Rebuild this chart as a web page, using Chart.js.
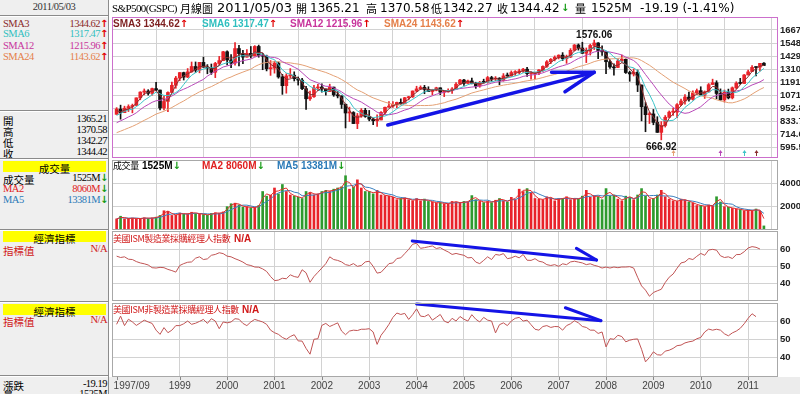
<!DOCTYPE html>
<html>
<head>
<meta charset="utf-8">
<script src="https://cdn.jsdelivr.net/npm/chart.js@4.4.1/dist/chart.umd.min.js"></script>
<style>
body{margin:0;width:800px;height:394px;overflow:hidden;background:#fff;position:relative;font-family:"DejaVu Sans",sans-serif}
canvas{position:absolute;left:0;z-index:1}
.a{position:absolute;white-space:nowrap;z-index:3}
.hd{top:0;height:16px;line-height:16px;font-size:12px;color:#000}
.cj{font-family:"Noto Sans CJK TC",sans-serif}
.ph{top:18px;height:12px;line-height:12px;font:bold 10px "Liberation Sans",sans-serif}
.up{color:#e00000;font:bold 10px "DejaVu Sans"}
.dn{color:#139a13;font:bold 10px "DejaVu Sans"}
.ih{height:12px;line-height:12px;color:#d01818;font-size:9px;letter-spacing:-0.4px}
#left{position:absolute;left:0;top:0;width:108px;height:394px;background:#efefef;border-right:1px solid #8c8c8c;z-index:5;overflow:hidden}
.row{position:absolute;left:3px;width:104px;height:12px;line-height:12px;font:10.5px "Liberation Serif",serif;letter-spacing:-0.5px;color:#000}
.row .v{position:absolute;right:0;top:0}
.row .c{font-family:"Noto Sans CJK TC";font-size:10.5px;letter-spacing:0}
.w{display:inline-block;width:7px;text-align:center;letter-spacing:0}
.sep{position:absolute;left:0;width:108px;height:1px;background:#8a8a8a;border-bottom:1px solid #fff}
.band{position:absolute;left:3px;width:103px;height:11px;line-height:11px;background:#ffff00;text-align:center;font:10.5px "Noto Sans CJK TC";color:#000}
#strip{position:absolute;left:109px;top:377px;width:691px;height:17px;background:#ececec;z-index:0}
</style>
</head>
<body>
<div id="strip"></div>
<canvas id="cPrice" width="800" height="147" style="top:14px"></canvas>
<canvas id="cVol" width="800" height="74" style="top:158px"></canvas>
<canvas id="cMfg" width="800" height="74" style="top:229px"></canvas>
<canvas id="cSrv" width="800" height="93" style="top:301px"></canvas>

<!-- title row -->
<span class="a hd" style="left:112px;font:11px 'Liberation Serif';letter-spacing:-0.6px;line-height:16px">S&amp;P500(GSPC)</span>
<span class="a hd cj" style="left:180px;font-size:11px">月線圖</span>
<span class="a hd" style="left:217px;font-size:13px">2011/05/03</span>
<span class="a hd cj" style="left:296px;font-size:11px">開</span>
<span class="a hd" style="left:310px">1365.21</span>
<span class="a hd cj" style="left:366px;font-size:11px">高</span>
<span class="a hd" style="left:380px">1370.58</span>
<span class="a hd cj" style="left:431px;font-size:11px">低</span>
<span class="a hd" style="left:443px">1342.27</span>
<span class="a hd cj" style="left:497px;font-size:11px">收</span>
<span class="a hd" style="left:510px">1344.42</span>
<span class="a hd dn" style="left:561px;line-height:16px">↓</span>
<span class="a hd cj" style="left:575px;font-size:11px">量</span>
<span class="a hd" style="left:591px">1525M</span>
<span class="a hd" style="left:640px">-19.19 (-1.41%)</span>

<!-- price panel header -->
<span class="a ph" style="left:113px;color:#7d1f1f">SMA3 1344.62<span class="up">↑</span></span>
<span class="a ph" style="left:202px;color:#2fbfbf">SMA6 1317.47<span class="up">↑</span></span>
<span class="a ph" style="left:290px;color:#c8349c">SMA12 1215.96<span class="up">↑</span></span>
<span class="a ph" style="left:384px;color:#e5804a">SMA24 1143.62<span class="up">↑</span></span>

<!-- volume panel header -->
<span class="a ih cj" style="top:160px;left:113px;color:#000">成交量</span>
<span class="a ph" style="top:160px;left:142px;color:#000">1525M<span class="dn">↓</span></span>
<span class="a ph" style="top:160px;left:202px;color:#e02020">MA2 8060M<span class="dn">↓</span></span>
<span class="a ph" style="top:160px;left:277px;color:#2a7ab8">MA5 13381M<span class="dn">↓</span></span>

<!-- indicator headers -->
<span class="a ih cj" style="top:233px;left:113px">美國ISM製造業採購經理人指數</span>
<span class="a ph" style="top:233px;left:234px;color:#d01818">N/A</span>
<span class="a ih cj" style="top:304px;left:113px">美國ISM非製造業採購經理人指數</span>
<span class="a ph" style="top:304px;left:242px;color:#d01818">N/A</span>

<!-- left info panel -->
<div id="left">
  <div class="row" style="top:1px;left:0;width:108px;text-align:center;color:#333">2011/05/03</div>
  <div class="sep" style="top:15px"></div>
  <div class="row" style="top:17.5px;color:#8b2a2a">SMA3<span class="v">1344.62<span class="w up">↑</span></span></div>
  <div class="row" style="top:28px;color:#2fbfbf">SMA6<span class="v">1317.47<span class="w up">↑</span></span></div>
  <div class="row" style="top:39.5px;color:#c8349c">SMA12<span class="v">1215.96<span class="w up">↑</span></span></div>
  <div class="row" style="top:50.5px;color:#e5804a">SMA24<span class="v">1143.62<span class="w up">↑</span></span></div>
  <div class="sep" style="top:110px"></div>
  <div class="row" style="top:113px"><span class="c">開</span><span class="v">1365.21</span></div>
  <div class="row" style="top:124px"><span class="c">高</span><span class="v">1370.58</span></div>
  <div class="row" style="top:135px"><span class="c">低</span><span class="v">1342.27</span></div>
  <div class="row" style="top:146px"><span class="c">收</span><span class="v">1344.42</span></div>
  <div class="sep" style="top:158px"></div>
  <div class="band" style="top:161px">成交量</div>
  <div class="row" style="top:171.5px"><span class="c">成交量</span><span class="v">1525M<span class="w dn">↓</span></span></div>
  <div class="row" style="top:182.5px;color:#e02020">MA2<span class="v">8060M<span class="w dn">↓</span></span></div>
  <div class="row" style="top:193.5px;color:#2a7ab8">MA5<span class="v">13381M<span class="w dn">↓</span></span></div>
  <div class="sep" style="top:229px"></div>
  <div class="band" style="top:231px">經濟指標</div>
  <div class="row" style="top:243px;color:#d01818"><span class="c">指標值</span><span class="v">N/A</span></div>
  <div class="sep" style="top:301px"></div>
  <div class="band" style="top:304px">經濟指標</div>
  <div class="row" style="top:314px;color:#d01818"><span class="c">指標值</span><span class="v">N/A</span></div>
  <div class="sep" style="top:375px"></div>
  <div class="row" style="top:378px"><span class="c">漲跌</span><span class="v">-19.19</span></div>
  <div class="row" style="top:388px"><span class="c">量</span><span class="v">1525M</span></div>
</div>

<script>
// monthly bars 1997/09 .. 2011/05 (index 0 .. 164)
const xTickIdx = [0, 16, 28, 40, 52, 64, 76, 88, 100, 112, 124, 136, 148, 160];
const xTickLabels = ["1997/09", "1999", "2000", "2001", "2002", "2003", "2004", "2005", "2006", "2007", "2008", "2009", "2010", "2011"];

// closes before 1997/09, only used to start the moving averages
const priorCloses = [581.50, 605.37, 615.93, 636.02, 640.43, 645.50, 654.17, 669.12, 670.63, 639.95, 651.99, 687.31,
  705.27, 757.02, 740.74, 786.16, 790.82, 757.12, 801.34, 848.28, 885.14, 954.31, 899.47];

const opens = [899.47, 947.28, 914.62, 955.40,
  970.43, 980.28, 1049.34, 1101.75, 1111.75, 1090.82, 1133.84, 1120.67, 957.28, 1017.01, 1098.67, 1163.63,
  1229.23, 1279.64, 1238.33, 1286.37, 1335.18, 1301.84, 1372.71, 1328.72, 1320.41, 1282.71, 1362.93, 1388.91,
  1469.25, 1394.46, 1366.42, 1498.58, 1452.43, 1420.60, 1454.60, 1430.83, 1517.68, 1436.51, 1429.40, 1314.95,
  1320.28, 1366.01, 1239.94, 1160.33, 1249.46, 1255.82, 1224.42, 1211.23, 1133.58, 1040.94, 1059.78, 1139.45,
  1148.08, 1130.20, 1106.73, 1147.39, 1076.92, 1067.14, 989.82, 911.62, 916.07, 815.28, 885.76, 936.31,
  879.82, 855.70, 841.15, 848.18, 916.92, 963.59, 974.50, 990.31, 1008.01, 995.97, 1050.71, 1058.20,
  1111.92, 1131.13, 1144.94, 1126.21, 1107.30, 1120.68, 1140.84, 1101.72, 1104.24, 1114.58, 1130.20, 1173.82,
  1211.92, 1181.27, 1203.60, 1180.59, 1156.85, 1191.50, 1191.33, 1234.18, 1220.33, 1228.81, 1207.01, 1249.48,
  1248.29, 1280.08, 1280.66, 1294.87, 1310.61, 1270.09, 1270.20, 1276.66, 1303.82, 1335.85, 1377.94, 1400.63,
  1418.30, 1438.24, 1406.82, 1420.86, 1482.37, 1530.62, 1503.35, 1455.27, 1473.99, 1526.75, 1549.38, 1481.14,
  1468.36, 1378.55, 1330.63, 1326.41, 1385.59, 1400.38, 1280.00, 1267.38, 1282.83, 1166.36, 968.75, 896.24,
  903.25, 825.88, 735.09, 797.87, 872.81, 919.14, 919.32, 987.48, 1020.62, 1057.08, 1036.19, 1095.63,
  1115.10, 1073.87, 1104.49, 1171.23, 1186.69, 1089.41, 1030.71, 1101.60, 1049.33, 1141.20, 1183.26, 1180.55,
  1257.62, 1289.14, 1328.64, 1329.48, 1365.21];

const highs = [960.59, 983.12, 973.72, 986.25,
  992.65, 1050.02, 1105.65, 1130.52, 1123.85, 1138.49, 1190.58, 1121.08, 1066.11, 1103.78, 1192.97, 1244.93,
  1280.37, 1283.75, 1316.55, 1375.98, 1376.45, 1372.93, 1420.33, 1352.20, 1357.74, 1373.17, 1427.06, 1473.07,
  1478.00, 1444.55, 1552.87, 1527.19, 1481.51, 1488.92, 1517.32, 1525.21, 1530.09, 1454.82, 1438.46, 1389.06,
  1383.37, 1376.38, 1263.47, 1269.30, 1315.93, 1286.62, 1239.78, 1226.27, 1155.40, 1110.61, 1163.38, 1173.62,
  1176.55, 1130.20, 1173.94, 1147.84, 1106.59, 1067.66, 994.46, 965.00, 924.02, 907.44, 951.57, 954.28,
  935.05, 864.64, 895.90, 924.24, 965.38, 1015.33, 1015.41, 1011.01, 1040.29, 1053.79, 1063.65, 1112.56,
  1155.38, 1158.98, 1163.23, 1150.57, 1127.74, 1146.34, 1140.84, 1109.68, 1131.54, 1142.05, 1188.46, 1217.33,
  1217.80, 1212.44, 1229.11, 1191.88, 1199.56, 1219.59, 1245.15, 1245.86, 1243.13, 1233.34, 1270.64, 1275.80,
  1294.90, 1297.57, 1310.88, 1318.16, 1326.70, 1290.68, 1280.42, 1306.74, 1340.28, 1389.45, 1407.89, 1431.81,
  1441.61, 1461.57, 1438.89, 1498.02, 1535.56, 1540.56, 1555.90, 1503.89, 1538.74, 1576.06, 1552.76, 1523.57,
  1471.77, 1396.02, 1359.68, 1404.57, 1440.24, 1404.05, 1292.17, 1313.15, 1303.04, 1167.03, 1007.51, 919.96,
  943.85, 877.86, 832.98, 888.70, 930.17, 956.23, 996.68, 1039.47, 1080.15, 1101.36, 1113.69, 1130.38,
  1150.45, 1112.42, 1180.16, 1219.80, 1205.13, 1131.23, 1120.95, 1129.24, 1148.90, 1196.14, 1227.08, 1262.60,
  1302.67, 1344.07, 1332.28, 1364.56, 1370.58];

const lows = [899.47, 855.27, 914.62, 924.92,
  912.83, 980.28, 1032.10, 1076.70, 1074.39, 1074.67, 1114.30, 939.98, 939.87, 923.32, 1098.67, 1136.89,
  1205.46, 1211.89, 1234.24, 1282.21, 1281.41, 1277.47, 1328.72, 1268.68, 1263.47, 1233.70, 1342.56, 1387.38,
  1350.14, 1325.07, 1346.62, 1339.40, 1361.09, 1420.60, 1413.89, 1430.83, 1419.44, 1305.79, 1294.90, 1254.07,
  1274.62, 1228.33, 1081.19, 1091.99, 1232.00, 1203.03, 1165.54, 1124.87, 944.75, 1026.76, 1054.31, 1114.93,
  1101.72, 1074.36, 1106.73, 1063.46, 1048.96, 952.92, 775.68, 833.44, 815.28, 768.63, 872.05, 872.05,
  840.34, 806.29, 788.90, 847.85, 902.83, 963.59, 962.10, 960.84, 990.36, 995.97, 1031.20, 1053.41,
  1105.08, 1124.44, 1087.16, 1107.23, 1076.32, 1113.32, 1078.78, 1060.72, 1101.29, 1090.19, 1127.60, 1173.76,
  1163.75, 1180.95, 1176.92, 1136.15, 1146.18, 1188.30, 1183.55, 1201.07, 1205.35, 1168.20, 1201.07, 1246.59,
  1245.74, 1253.61, 1268.42, 1280.74, 1245.34, 1219.29, 1224.54, 1261.30, 1290.93, 1327.10, 1360.98, 1385.93,
  1403.97, 1389.42, 1363.98, 1416.37, 1476.70, 1484.18, 1454.25, 1370.60, 1439.29, 1489.56, 1406.10, 1435.65,
  1270.05, 1316.75, 1256.98, 1324.35, 1373.07, 1272.00, 1200.44, 1248.64, 1106.42, 839.80, 741.02, 815.69,
  804.22, 734.52, 666.92, 783.32, 866.10, 888.86, 869.32, 978.51, 991.97, 1020.18, 1029.38, 1085.89,
  1071.59, 1044.50, 1101.36, 1170.69, 1040.78, 1028.33, 1010.91, 1039.70, 1039.70, 1131.87, 1173.00, 1180.55,
  1257.62, 1289.14, 1249.05, 1294.70, 1342.27];

const closes = [947.28, 914.62, 955.40, 970.43,
  980.28, 1049.34, 1101.75, 1111.75, 1090.82, 1133.84, 1120.67, 957.28, 1017.01, 1098.67, 1163.63, 1229.23,
  1279.64, 1238.33, 1286.37, 1335.18, 1301.84, 1372.71, 1328.72, 1320.41, 1282.71, 1362.93, 1388.91, 1469.25,
  1394.46, 1366.42, 1498.58, 1452.43, 1420.60, 1454.60, 1430.83, 1517.68, 1436.51, 1429.40, 1314.95, 1320.28,
  1366.01, 1239.94, 1160.33, 1249.46, 1255.82, 1224.42, 1211.23, 1133.58, 1040.94, 1059.78, 1139.45, 1148.08,
  1130.20, 1106.73, 1147.39, 1076.92, 1067.14, 989.82, 911.62, 916.07, 815.28, 885.76, 936.31, 879.82,
  855.70, 841.15, 848.18, 916.92, 963.59, 974.50, 990.31, 1008.01, 995.97, 1050.71, 1058.20, 1111.92,
  1131.13, 1144.94, 1126.21, 1107.30, 1120.68, 1140.84, 1101.72, 1104.24, 1114.58, 1130.20, 1173.82, 1211.92,
  1181.27, 1203.60, 1180.59, 1156.85, 1191.50, 1191.33, 1234.18, 1220.33, 1228.81, 1207.01, 1249.48, 1248.29,
  1280.08, 1280.66, 1294.87, 1310.61, 1270.09, 1270.20, 1276.66, 1303.82, 1335.85, 1377.94, 1400.63, 1418.30,
  1438.24, 1406.82, 1420.86, 1482.37, 1530.62, 1503.35, 1455.27, 1473.99, 1526.75, 1549.38, 1481.14, 1468.36,
  1378.55, 1330.63, 1322.70, 1385.59, 1400.38, 1280.00, 1267.38, 1282.83, 1166.36, 968.75, 896.24, 903.25,
  825.88, 735.09, 797.87, 872.81, 919.14, 919.32, 987.48, 1020.62, 1057.08, 1036.19, 1095.63, 1115.10,
  1073.87, 1104.49, 1169.43, 1186.69, 1089.41, 1030.71, 1101.60, 1049.33, 1141.20, 1183.26, 1180.55, 1257.64,
  1286.12, 1327.22, 1325.83, 1363.61, 1344.42];

// volume, in the units of the volume axis
const volumes = [950, 1180, 960, 1000,
  1020, 960, 1000, 1050, 990, 1040, 1100, 1250, 1650, 1600, 1250, 1300,
  1450, 1350, 1400, 1520, 1420, 1380, 1320, 1280, 1420, 1480, 1430, 1550,
  2000, 2250, 2300, 2150, 1950, 2000, 1900, 1950, 2100, 3300, 2900, 3000,
  3600, 3100, 3900, 3300, 3000, 2900, 2800, 2700, 3300, 3200, 3000, 3100,
  3300, 3400, 3300, 3500, 3600, 3700, 4650, 3500, 3700, 4300, 3600, 3300,
  3300, 3100, 3400, 3000, 2950, 2900, 2800, 2600, 2700, 2750, 2600, 2500,
  2700, 2500, 2650, 2450, 2400, 2300, 2350, 2250, 2250, 2450, 2400, 2300,
  2450, 2400, 2950, 2600, 2450, 2350, 2450, 2350, 2550, 2700, 2500, 2400,
  2800, 2600, 3500, 3300, 3550, 3200, 2700, 2650, 2600, 2850, 2750, 2500,
  2700, 2700, 2850, 2600, 2700, 2650, 2900, 3400, 2800, 2950, 2850, 2600,
  3550, 2900, 3000, 2650, 2500, 2900, 2800, 2600, 3000, 3550, 2900, 2650,
  2700, 3000, 3400, 2850, 2650, 2500, 2450, 2650, 2550, 2400, 2300, 2100,
  2100, 2000, 2150, 2050, 2850, 2400, 2000, 1950, 1850, 1800, 1750, 1650,
  1700, 1650, 1800, 1600, 350];

// ISM manufacturing PMI
const ismMfg = [56.0, 55.2, 55.6, 54.2,
  54.0, 52.8, 52.0, 51.5, 50.8, 49.2, 49.0, 49.4, 49.2, 48.2, 47.5, 46.6,
  50.5, 51.6, 52.4, 52.6, 54.8, 55.6, 54.0, 54.4, 56.5, 57.0, 58.0, 57.5,
  56.0, 55.6, 54.5, 53.6, 52.5, 51.0, 50.5, 49.6, 49.5, 48.5, 47.0, 44.0,
  41.6, 41.9, 43.0, 42.7, 45.0, 44.0, 43.5, 48.0, 46.2, 40.6, 44.0, 46.5,
  49.0, 51.6, 55.6, 54.0, 53.5, 52.6, 51.0, 50.5, 51.6, 50.0, 50.5, 52.6,
  53.0, 50.0, 46.0, 46.5, 49.0, 51.6, 52.0, 54.6, 55.0, 57.5, 60.0, 63.0,
  63.6, 60.6, 61.0, 61.5, 62.0, 60.5, 61.0, 59.6, 58.5, 57.0, 57.6, 57.0,
  56.5, 55.0, 55.2, 52.5, 51.6, 53.5, 55.6, 54.0, 57.0, 56.6, 57.5, 54.5,
  55.0, 56.0, 55.0, 57.0, 53.6, 53.5, 54.5, 53.0, 52.5, 51.0, 50.5, 51.0,
  50.0, 51.5, 51.0, 52.6, 53.0, 52.5, 52.0, 51.0, 51.5, 50.6, 50.0, 49.0,
  49.6, 49.0, 49.6, 49.2, 49.6, 49.6, 49.8, 49.0, 43.6, 38.5, 36.0, 32.4,
  34.6, 35.6, 36.5, 40.5, 43.6, 45.5, 48.9, 52.0, 52.6, 54.6, 54.0, 55.9,
  57.6, 56.5, 59.6, 60.0, 59.5, 56.2, 55.2, 55.6, 54.6, 56.9, 57.0, 58.6,
  60.8, 61.6, 61.2, 60.2, null];

// ISM non-manufacturing index
const ismSrv = [58.2, 62.7, 57.5, 61.0,
  59.5, 57.6, 59.0, 60.5, 59.5, 58.7, 55.0, 52.7, 56.4, 53.6, 55.0, 57.5,
  57.5, 58.5, 60.0, 58.2, 58.8, 59.8, 60.9, 58.7, 61.3, 60.0, 55.8, 59.5,
  59.0, 59.5, 61.3, 61.0, 58.7, 57.5, 59.5, 60.9, 60.2, 59.5, 58.2, 55.0,
  53.6, 52.7, 51.0, 50.0, 51.5, 52.5, 49.1, 49.0, 45.0, 41.8, 50.0, 50.3,
  57.6, 58.7, 57.0, 58.0, 59.0, 54.5, 52.5, 54.5, 55.0, 54.8, 55.5, 55.5,
  55.8, 54.0, 47.2, 52.2, 55.0, 58.2, 62.0, 64.4, 63.6, 64.2, 60.9, 63.5,
  66.7, 62.7, 62.4, 63.6, 60.5, 62.0, 63.6, 60.0, 59.0, 61.5, 60.0, 62.5,
  61.0, 60.0, 63.5, 61.0, 59.5, 62.0, 60.5, 60.0, 53.5, 58.0, 59.0, 57.5,
  60.0, 61.5, 62.0, 60.0, 60.5, 58.0, 55.5, 55.0, 57.0, 57.5, 56.5, 57.0,
  56.9, 55.0, 57.5, 58.5, 60.2, 59.0, 57.0, 56.5, 55.0, 55.0, 53.2, 54.0,
  45.8, 50.3, 50.0, 52.2, 51.5, 48.6, 49.5, 50.0, 50.2, 44.5, 37.6, 40.0,
  43.1, 41.5, 41.3, 43.5, 44.0, 45.0, 46.5, 46.8, 48.0, 48.6, 49.0, 50.3,
  51.0, 54.0, 55.6, 55.0, 55.5, 55.0, 53.0, 51.9, 53.5, 54.5, 56.0, 58.5,
  61.5, 64.0, 62.4, null, null];

const priceTicks = [595.5, 714.6, 833.7, 952.8, 1071.9, 1191.0, 1310.2, 1429.3, 1548.4, 1667.5];
const volTicks = [2000, 4000];
const ismTicks = [40, 50, 60];

// months where a moving average turned up (small marks at the bottom of the price panel)
const turnMonths = [141, 153, 159, 162];
const turnSeries = ["SMA24", "SMA12", "SMA6", "SMA3"];

// hand drawn trend arrows, in (month index, value)
const priceTrend = [[68.7, 802], [121.0, 1282]];
const priceTrendHead = [[110.2, 1282], [121.0, 1282], [113.6, 1105]];
const mfgTrend = [[74.9, 64.9], [121.6, 53.7]];
const mfgTrendHead = [[116.5, 60.6], [121.6, 53.7]];
const srvTrend = [[76.0, 69.4], [122.7, 60.2]];
const srvTrendHead = [[113.7, 67.3], [122.7, 60.2]];

const GRID = "#d2d2d2";
const UP = "#e8232a", DOWN = "#111111", VGREEN = "#2e9a2e";
const SMA_COLORS = {SMA3: "#8b2e2e", SMA6: "#3cc4c8", SMA12: "#b848b8", SMA24: "#e4a074"};
const TREND = "#1414e6";

const allCloses = priorCloses.concat(closes);
function sma(n) {
  return closes.map((_, i) => {
    const end = i + priorCloses.length;
    let s = 0;
    for (let k = end - n + 1; k <= end; k++) s += allCloses[k];
    return s / n;
  });
}
function volMa(n) {
  return volumes.map((_, i) => {
    const a = volumes.slice(Math.max(0, i - n + 1), i + 1);
    return a.reduce((p, q) => p + q, 0) / a.length;
  });
}
const smaLines = {SMA3: sma(3), SMA6: sma(6), SMA12: sma(12), SMA24: sma(24)};
const idx = closes.map((_, i) => i);
const candleColors = idx.map(i => closes[i] >= opens[i] ? UP : DOWN);
const volColors = idx.map(i => closes[i] >= opens[i] ? UP : VGREEN);
const pts = arr => arr.map((y, i) => ({x: i, y: y}));

const framePlugin = {
  id: "frame",
  afterDraw(chart, args, opts) {
    const {ctx, chartArea: a} = chart;
    ctx.save();
    ctx.strokeStyle = opts.color;
    ctx.lineWidth = opts.width || 1;
    ctx.strokeRect(a.left + 0.5, a.top + 0.5, a.right - a.left - 1, a.bottom - a.top - 1);
    ctx.restore();
  }
};

function drawPath(chart, list, width) {
  const {ctx, scales: {x, y}} = chart;
  ctx.save();
  ctx.strokeStyle = TREND;
  ctx.lineWidth = width;
  ctx.lineCap = "round";
  ctx.lineJoin = "round";
  ctx.beginPath();
  list.forEach((p, k) => {
    const px = x.getPixelForValue(p[0]), py = y.getPixelForValue(p[1]);
    if (k === 0) ctx.moveTo(px, py); else ctx.lineTo(px, py);
  });
  ctx.stroke();
  ctx.restore();
}

const priceNotes = {
  id: "priceNotes",
  afterDatasetsDraw(chart) {
    const {ctx, chartArea: a, scales: {x, y}} = chart;
    const hi = Math.max(...highs), lo = Math.min(...lows);
    const hiI = highs.indexOf(hi), loI = lows.indexOf(lo);
    ctx.save();
    ctx.font = "bold 10px 'Liberation Sans'";
    ctx.fillStyle = "#111";
    ctx.textAlign = "center";
    ctx.textBaseline = "alphabetic";
    ctx.fillText(hi.toFixed(2), x.getPixelForValue(hiI), y.getPixelForValue(hi) - 2);
    ctx.fillText(lo.toFixed(2), x.getPixelForValue(loI), y.getPixelForValue(lo) + 10);
    // small turn marks
    turnMonths.forEach((m, k) => {
      const px = Math.round(x.getPixelForValue(m)) + 0.5;
      ctx.strokeStyle = SMA_COLORS[turnSeries[k]];
      ctx.fillStyle = SMA_COLORS[turnSeries[k]];
      ctx.lineWidth = 1;
      ctx.beginPath();
      ctx.moveTo(px, a.bottom - 2);
      ctx.lineTo(px, a.bottom - 7);
      ctx.stroke();
      ctx.beginPath();
      ctx.moveTo(px - 2, a.bottom - 5);
      ctx.lineTo(px, a.bottom - 8);
      ctx.lineTo(px + 2, a.bottom - 5);
      ctx.closePath();
      ctx.fill();
    });
    ctx.restore();
    drawPath(chart, priceTrend, 3.5);
    drawPath(chart, priceTrendHead, 3.5);
  }
};

const mfgNotes = {id: "mfgNotes", afterDatasetsDraw(chart) { drawPath(chart, mfgTrend, 3); drawPath(chart, mfgTrendHead, 3); }};
const srvNotes = {id: "srvNotes", afterDatasetsDraw(chart) { drawPath(chart, srvTrend, 3); drawPath(chart, srvTrendHead, 3); }};

const xLabels = {
  id: "xLabels",
  afterDraw(chart) {
    const {ctx, chartArea: a, scales: {x}} = chart;
    ctx.save();
    ctx.font = "10px 'Liberation Sans'";
    ctx.fillStyle = "#444";
    ctx.textBaseline = "middle";
    ctx.strokeStyle = "#888";
    ctx.lineWidth = 1;
    xTickIdx.forEach((v, k) => {
      const px = x.getPixelForValue(v);
      ctx.textAlign = k === 0 ? "left" : "center";
      ctx.fillText(xTickLabels[k], k === 0 ? px - 3 : px, a.bottom + 9.5);
      ctx.beginPath();
      ctx.moveTo(Math.round(px) + 0.5, a.bottom);
      ctx.lineTo(Math.round(px) + 0.5, a.bottom + 3);
      ctx.stroke();
    });
    ctx.restore();
  }
};

function xScale(h) {
  return {
    type: "linear", min: -1.17, max: 167.57, offset: false, bounds: "data",
    grid: {color: GRID, drawTicks: false},
    border: {display: false},
    ticks: {display: false},
    afterBuildTicks: s => { s.ticks = xTickIdx.slice(1).map(v => ({value: v})); },
    afterFit: s => { s.height = h; s.paddingLeft = 0; s.paddingRight = 0; }
  };
}

function yScale(min, max, ticks, fmt) {
  return {
    type: "linear", position: "right", min: min, max: max, bounds: "data",
    grid: {color: GRID, drawTicks: false},
    border: {display: false},
    ticks: {autoSkip: false, padding: 2, color: "#222", font: {family: "Liberation Sans", size: 9.5, weight: "bold"}, callback: fmt},
    afterBuildTicks: s => { s.ticks = ticks.map(v => ({value: v})); },
    afterFit: s => { s.width = 22; s.paddingTop = 0; s.paddingBottom = 0; }
  };
}

function options(padTop, padBottom, xH, y, frameColor) {
  return {
    responsive: false, animation: false, events: [],
    layout: {padding: {left: 112, right: 0, top: padTop, bottom: padBottom}},
    plugins: {legend: {display: false}, tooltip: {enabled: false}, frame: {color: frameColor}},
    scales: {x: xScale(xH), y: y}
  };
}

const lineSet = (data, color, order) => ({
  type: "line", data: pts(data), borderColor: color, borderWidth: 1, pointRadius: 0, tension: 0, order: order
});

new Chart(document.getElementById("cPrice"), {
  type: "bar",
  data: {
    datasets: [
      lineSet(smaLines.SMA3, SMA_COLORS.SMA3, 0),
      lineSet(smaLines.SMA6, SMA_COLORS.SMA6, 1),
      lineSet(smaLines.SMA12, SMA_COLORS.SMA12, 2),
      lineSet(smaLines.SMA24, SMA_COLORS.SMA24, 3),
      {type: "bar", data: idx.map(i => ({x: i, y: [opens[i], closes[i]]})), backgroundColor: candleColors,
        grouped: false, barPercentage: 1, categoryPercentage: 1, maxBarThickness: 3, minBarLength: 1, order: 4},
      {type: "bar", data: idx.map(i => ({x: i, y: [lows[i], highs[i]]})), backgroundColor: candleColors,
        grouped: false, barPercentage: 1, categoryPercentage: 1, maxBarThickness: 1, order: 5}
    ]
  },
  options: options(3, 3, 0, yScale(501.7, 1785.9, priceTicks, v => v.toFixed(2)), "#cc6fcc"),
  plugins: [framePlugin, priceNotes]
});

new Chart(document.getElementById("cVol"), {
  type: "bar",
  data: {
    datasets: [
      lineSet(volMa(2), "#e03030", 0),
      lineSet(volMa(5), "#3a80c0", 1),
      {type: "bar", data: pts(volumes), backgroundColor: volColors, grouped: false,
        barPercentage: 1, categoryPercentage: 1, maxBarThickness: 2, order: 2}
    ]
  },
  options: options(2, 2, 0, yScale(0, 6000, volTicks, v => String(v)), "#a8a8a8"),
  plugins: [framePlugin]
});

new Chart(document.getElementById("cMfg"), {
  type: "line",
  data: {datasets: [lineSet(ismMfg, "#c05454", 0)]},
  options: options(2, 2, 0, yScale(29.6, 70.8, ismTicks, v => String(v)), "#a8a8a8"),
  plugins: [framePlugin, mfgNotes]
});

new Chart(document.getElementById("cSrv"), {
  type: "line",
  data: {datasets: [lineSet(ismSrv, "#c05454", 0)]},
  options: options(2, 0, 17, yScale(29.3, 69.9, ismTicks, v => String(v)), "#a8a8a8"),
  plugins: [framePlugin, srvNotes, xLabels]
});
</script>
</body>
</html>
